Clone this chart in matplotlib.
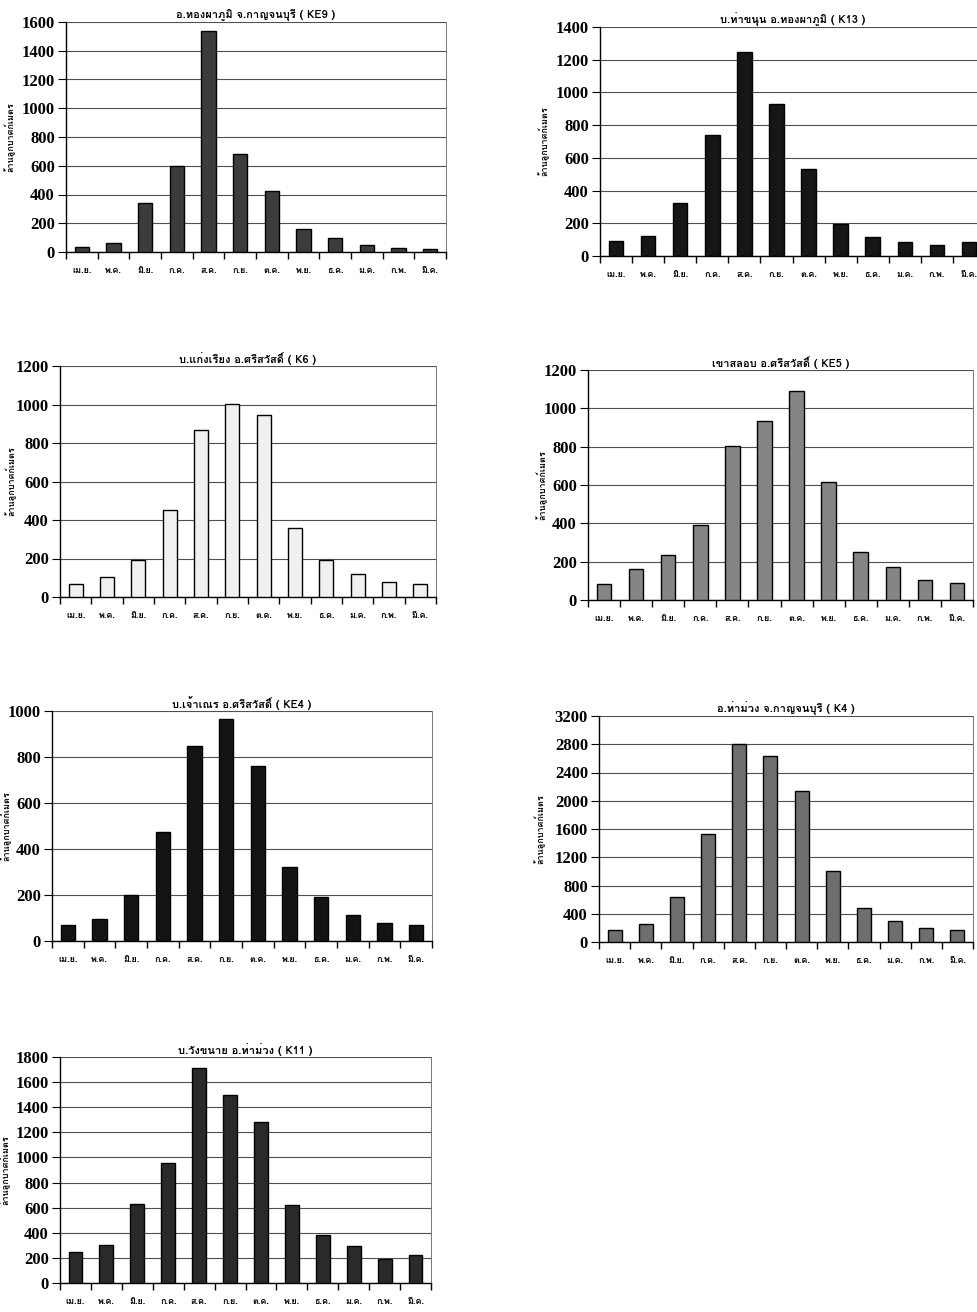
import matplotlib
matplotlib.use("Agg")
import matplotlib.pyplot as plt
import numpy as np
from matplotlib import font_manager as fm
from matplotlib.ft2font import FT2Font


## find a family that has Thai glyphs
def find_thai():
    for f in fm.fontManager.ttflist:
        try:
            if ord('ก') in FT2Font(f.fname).get_charmap():
                return f.name
        except Exception:
            pass
    return 'DejaVu Sans'

thai = find_thai()
num_font = 'Liberation Serif'

## data
months = ['เม.ย.', 'พ.ค.', 'มิ.ย.', 'ก.ค.', 'ส.ค.', 'ก.ย.',
          'ต.ค.', 'พ.ย.', 'ธ.ค.', 'ม.ค.', 'ก.พ.', 'มี.ค.']
ylabel = 'ล้านลูกบาศก์เมตร'

ke9 = [35, 60, 340, 600, 1540, 680, 425, 160, 100, 50, 30, 20]
k13 = [90, 125, 325, 740, 1250, 930, 530, 195, 115, 85, 70, 85]
k6 = [65, 105, 190, 450, 865, 1005, 945, 360, 190, 120, 80, 65]
ke5 = [85, 160, 235, 390, 805, 935, 1090, 615, 250, 170, 105, 90]
ke4 = [70, 95, 200, 475, 850, 965, 760, 320, 190, 115, 80, 70]
k4 = [170, 260, 640, 1530, 2800, 2630, 2140, 1010, 480, 300, 200, 170]
k11 = [250, 305, 630, 955, 1715, 1495, 1280, 625, 385, 295, 195, 220]

titles = ['อ.ทองผาภูมิ จ.กาญจนบุรี ( KE9 )', 'บ.ท่าขนุน อ.ทองผาภูมิ ( K13 )',
          'บ.แก่งเรียง อ.ศรีสวัสดิ์ ( K6 )', 'เขาสลอบ อ.ศรีสวัสดิ์ ( KE5 )',
          'บ.เจ้าเณร อ.ศรีสวัสดิ์ ( KE4 )', 'อ.ท่าม่วง จ.กาญจนบุรี ( K4 )',
          'บ.วังขนาย อ.ท่าม่วง ( K11 )']
series = [ke9, k13, k6, ke5, ke4, k4, k11]
ymax = [1600, 1400, 1200, 1200, 1000, 3200, 1800]
ystep = [200, 200, 200, 200, 200, 400, 200]
colors = ['#3c3c3c', '#161616', '#f0f0f0', '#858585', '#141414', '#6e6e6e', '#2a2a2a']

# plot boxes in pixels: left, right, top, bottom, ylabel x
boxes = [(66, 446, 22, 252, 16), (600, 985, 27, 256, 550),
         (60, 436, 366, 597, 17), (588, 973, 370, 600, 548),
         (52, 432, 711, 941, 12), (599, 973, 716, 942, 546),
         (60, 431, 1057, 1283, 11)]

W, H = 977, 1312
fig = plt.figure(figsize=(W / 100, H / 100), dpi=100)

for i in range(7):
    l, r, t, b, lx = boxes[i]
    ax = fig.add_axes([l / W, 1 - b / H, (r - l) / W, (b - t) / H])
    x = np.arange(12)
    ax.bar(x, series[i], width=0.45, color=colors[i], edgecolor='black',
           linewidth=1.0, zorder=3)
    ax.set_xlim(-0.5, 11.5)
    ax.set_ylim(0, ymax[i])
    ticks = np.arange(0, ymax[i] + 1, ystep[i])
    ax.set_yticks(ticks)
    ax.set_yticklabels([str(v) for v in ticks],
                       family=num_font, fontsize=12, fontweight='bold')
    ax.yaxis.grid(True, color='#505050', linewidth=0.8, zorder=0)
    ax.set_xticks(x)
    ax.set_xticklabels(months, family=[thai, 'DejaVu Sans'], fontsize=6.5,
                       fontweight='bold')
    ax.set_xticks(np.arange(-0.5, 12, 1), minor=True)
    ax.tick_params(axis='x', which='major', length=0, pad=10)
    ax.tick_params(axis='x', which='minor', length=5, width=1, direction='out')
    ax.tick_params(axis='y', length=6, width=0.8, direction='out', pad=2)
    for s in ['left', 'bottom']:
        ax.spines[s].set_linewidth(1.0)
    ax.spines['top'].set_visible(False)
    ax.spines['right'].set_linewidth(0.6)
    ax.spines['right'].set_color('#606060')
    ax.set_ylabel(ylabel, family=[thai, 'DejaVu Sans'], fontsize=6.5,
                  fontweight='bold')
    ax.yaxis.set_label_coords((lx - l) / (r - l), 0.5)
    ax.set_title(titles[i], family=[thai, 'Liberation Serif'], fontsize=8,
                 fontweight='bold', pad=2)

fig.savefig('out.png', dpi=100)
